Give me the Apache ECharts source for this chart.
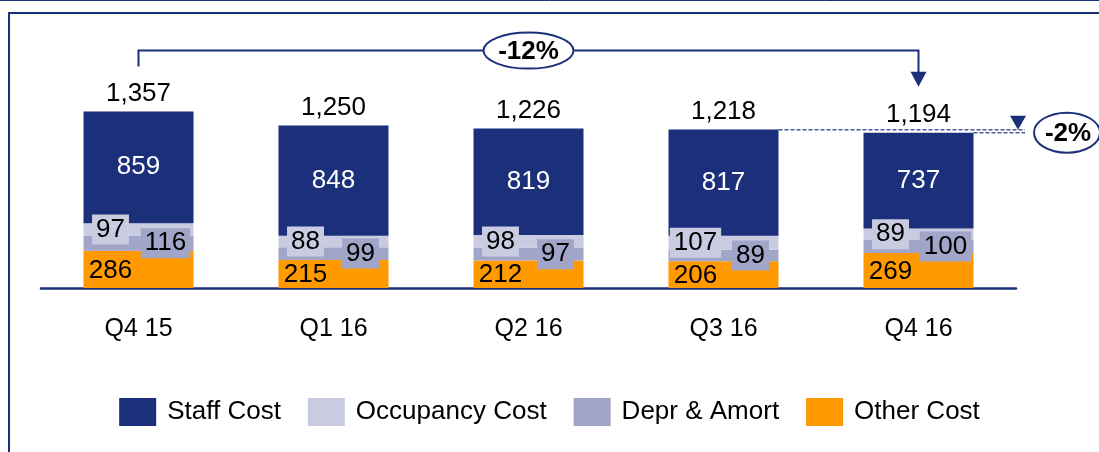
<!DOCTYPE html>
<html>
<head>
<meta charset="utf-8">
<script src="https://cdn.jsdelivr.net/npm/echarts@6/dist/echarts.min.js"></script>
<style>
  html, body { margin: 0; padding: 0; background: #fff; }
  #chart { width: 1099px; height: 452px; }
</style>
</head>
<body>
<div id="chart"></div>
<script>
const categories = ['Q4 15', 'Q1 16', 'Q2 16', 'Q3 16', 'Q4 16']
const staffCost = [859, 848, 819, 817, 737]
const occupancyCost = [97, 88, 98, 107, 89]
const deprAmort = [116, 99, 97, 89, 100]
const otherCost = [286, 215, 212, 206, 269]
const totals = [1357, 1250, 1226, 1218, 1194]

const NAVY = '#1b2f7b'
const FONT = '"Liberation Sans", Arial, sans-serif'
const BAR_W = 110
const FS = 26

const chart = echarts.init(document.getElementById('chart'))

// 各分段标签：左右错开，带底色小框
const segLabel = (extra) => Object.assign({
  show: true,
  position: 'inside',
  fontSize: FS,
  fontFamily: FONT,
  color: '#000',
}, extra)

chart.setOption({
  animation: false,
  textStyle: { fontFamily: FONT },
  grid: { left: 41, right: 83, top: 28, bottom: 164 },
  legend: {
    data: ['Staff Cost', 'Occupancy Cost', 'Depr & Amort', 'Other Cost'],
    left: 'center',
    top: 393,
    icon: 'rect',
    itemWidth: 37,
    itemHeight: 28,
    itemGap: 27,
    selectedMode: false,
    textStyle: { fontSize: FS, color: '#000', fontFamily: FONT, padding: [0, 0, 0, 6] },
  },
  xAxis: {
    type: 'category',
    data: categories,
    axisLine: { lineStyle: { color: NAVY, width: 2.5 } },
    axisTick: { show: false },
    axisLabel: { fontSize: 25, color: '#000', margin: 29, fontFamily: FONT },
  },
  yAxis: { type: 'value', min: 0, max: 2000, show: false, splitLine: { show: false } },
  series: [
    {
      name: 'Other Cost', type: 'bar', stack: 'cost', barWidth: BAR_W, barGap: '-100%',
      data: otherCost,
      itemStyle: { color: '#ff9900' },
      label: segLabel({ offset: [-28, 1] }),
    },
    {
      name: 'Depr & Amort', type: 'bar', stack: 'cost', barWidth: BAR_W, barGap: '-100%',
      data: deprAmort,
      itemStyle: { color: '#a1a6c9' },
      label: segLabel({ offset: [27, 0], backgroundColor: '#a1a6c9', padding: [3, 4, 1, 4] }),
    },
    {
      name: 'Occupancy Cost', type: 'bar', stack: 'cost', barWidth: BAR_W, barGap: '-100%',
      data: occupancyCost,
      itemStyle: { color: '#c9cbe1' },
      label: segLabel({ offset: [-28, 0], backgroundColor: '#c9cbe1', padding: [3, 4, 1, 4] }),
    },
    {
      name: 'Staff Cost', type: 'bar', stack: 'cost', barWidth: BAR_W, barGap: '-100%',
      data: staffCost,
      itemStyle: { color: NAVY },
      label: segLabel({ color: '#fff' }),
    },
    {
      // 总计标签（透明柱）
      name: 'Total', type: 'bar', barWidth: BAR_W, barGap: '-100%', silent: true, z: 1,
      data: totals,
      itemStyle: { color: 'rgba(0,0,0,0)' },
      label: {
        show: true, position: 'top', distance: 5, fontSize: FS, color: '#000', fontFamily: FONT,
        formatter: (p) => p.value.toLocaleString('en-US'),
      },
    },
  ],
})

// 注释：-12% 括号箭头和 -2% 虚线
const px = (i, v) => chart.convertToPixel({ xAxisIndex: 0, yAxisIndex: 0 }, [i, v])
const first = px(0, totals[0])
const last = px(4, totals[4])
const mid = px(2, totals[2])
const q3 = px(3, totals[3])
const bracketY = first[1] - 61
const lineEnd = 1025
const triX = 1018

chart.setOption({
  graphic: [
    // 外框
    { type: 'line', shape: { x1: 0, y1: 0.5, x2: 1099, y2: 0.5 }, style: { stroke: NAVY, lineWidth: 1 } },
    { type: 'line', shape: { x1: 8, y1: 13, x2: 1099, y2: 13 }, style: { stroke: NAVY, lineWidth: 2 } },
    { type: 'line', shape: { x1: 9, y1: 12, x2: 9, y2: 452 }, style: { stroke: NAVY, lineWidth: 2 } },
    // -12%
    {
      type: 'polyline',
      shape: { points: [[first[0], first[1] - 45], [first[0], bracketY], [last[0], bracketY], [last[0], last[1] - 60]] },
      style: { stroke: NAVY, lineWidth: 2, fill: null },
    },
    {
      type: 'polygon',
      shape: { points: [[last[0] - 8, last[1] - 61], [last[0] + 8, last[1] - 61], [last[0], last[1] - 46]] },
      style: { fill: NAVY },
    },
    {
      type: 'ellipse',
      shape: { cx: mid[0], cy: bracketY, rx: 45, ry: 18 },
      style: { fill: '#fff', stroke: NAVY, lineWidth: 2 },
    },
    {
      type: 'text', x: mid[0], y: bracketY + 1,
      style: { text: '-12%', fontSize: 26, fontWeight: 'bold', fill: '#000', align: 'center', verticalAlign: 'middle', fontFamily: FONT },
    },
    // -2%
    {
      type: 'line', shape: { x1: q3[0] + BAR_W / 2, y1: q3[1], x2: lineEnd, y2: q3[1] },
      style: { stroke: '#4b5a98', lineWidth: 1.5, lineDash: [4, 2] },
    },
    {
      type: 'line', shape: { x1: last[0] + BAR_W / 2, y1: last[1], x2: lineEnd, y2: last[1] },
      style: { stroke: '#4b5a98', lineWidth: 1.5, lineDash: [4, 2] },
    },
    {
      type: 'polygon',
      shape: { points: [[triX - 8, q3[1] - 14], [triX + 8, q3[1] - 14], [triX, q3[1]]] },
      style: { fill: NAVY },
    },
    {
      type: 'ellipse',
      shape: { cx: 1067, cy: q3[1] + 3, rx: 33, ry: 20 },
      style: { fill: '#fff', stroke: NAVY, lineWidth: 2 },
    },
    {
      type: 'text', x: 1068, y: q3[1] + 4,
      style: { text: '-2%', fontSize: 26, fontWeight: 'bold', fill: '#000', align: 'center', verticalAlign: 'middle', fontFamily: FONT },
    },
  ],
})
</script>
</body>
</html>
